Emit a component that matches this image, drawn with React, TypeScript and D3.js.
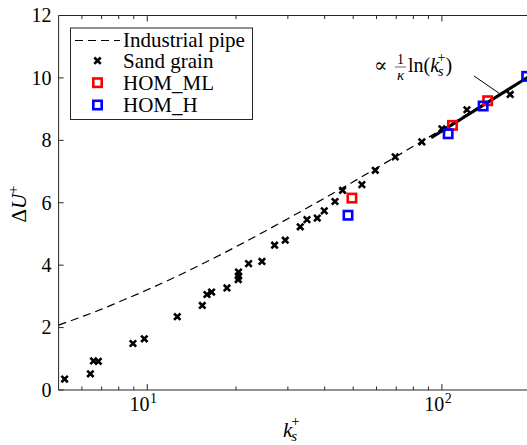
import * as d3 from "d3";

// Sand-grain roughness function
const sandK = [5.24, 6.41, 6.57, 6.82, 8.94, 9.77, 12.64, 15.37, 15.94, 16.53, 18.64, 20.36, 20.4, 20.4, 22.07, 24.5, 27.04, 29.39, 33.05, 34.83, 37.75, 39.87, 43.36, 46.0, 53.5, 59.4, 69.4, 85.5, 100, 121.6, 170.5];
const sandDU = [0.35, 0.52, 0.93, 0.92, 1.49, 1.64, 2.35, 2.71, 3.06, 3.14, 3.27, 3.54, 3.65, 3.78, 4.05, 4.12, 4.64, 4.8, 5.23, 5.46, 5.51, 5.74, 6.04, 6.4, 6.58, 7.04, 7.47, 7.95, 8.37, 8.98, 9.47];

const homMLK = [49.5, 108.6, 143];
const homMLDU = [6.15, 8.48, 9.27];

const homHK = [48.0, 105.0, 138.0, 194];
const homHDU = [5.6, 8.21, 9.1, 10.05];

// Industrial pipe curve, sampled along the dashed line
const pipeK = [5, 6, 7, 8, 10, 12, 15, 20, 25, 30, 40, 50, 60, 80, 100, 150, 200];
const pipeDU = [2.08, 2.35, 2.59, 2.82, 3.21, 3.55, 3.99, 4.59, 5.08, 5.49, 6.15, 6.67, 7.11, 7.81, 8.35, 9.36, 10.08];

// fully rough asymptote (solid)
const roughK = [92, 200];
const roughDU = [8.08, 10.08];

const yTicks = [0, 2, 4, 6, 8, 10, 12];
const xMajor = [10, 100];
const xMinor = [6, 7, 8, 9, 20, 30, 40, 50, 60, 70, 80, 90, 200];

const W = 527;
const H = 445;
const font = '"Liberation Serif", "DejaVu Serif", "Times New Roman", serif';
const axisColor = "#262626";

export default function App() {
  const x = d3.scaleLog().domain([5, 200]).range([58.6, 530.6]);
  const y = d3.scaleLinear().domain([0, 12]).range([390, 15.5]);
  const left = x(5);
  const right = W + 5;
  const top = y(12);
  const bottom = y(0);

  const line = d3
    .line<[number, number]>()
    .x((d) => x(d[0]))
    .y((d) => y(d[1]))
    .curve(d3.curveMonotoneX);

  const pipeData = pipeK.map((k, i) => [k, pipeDU[i]] as [number, number]);
  const roughData = roughK.map((k, i) => [k, roughDU[i]] as [number, number]);

  const cross = (cx: number, cy: number, key: string) => (
    <path
      key={key}
      d={`M${cx - 3.2},${cy - 3.2}L${cx + 3.2},${cy + 3.2}M${cx - 3.2},${cy + 3.2}L${cx + 3.2},${cy - 3.2}`}
      stroke="#000"
      strokeWidth={2.6}
      fill="none"
    />
  );
  const square = (cx: number, cy: number, color: string, key: string) => (
    <rect key={key} x={cx - 4.2} y={cy - 4.2} width={8.4} height={8.4} fill="none" stroke={color} strokeWidth={2.6} />
  );

  return (
    <svg width={W} height={H} style={{ position: "absolute", left: 0, top: 0, background: "#fff", fontFamily: font }}>
      <defs>
        <clipPath id="plot">
          <rect x={left} y={top} width={right - left} height={bottom - top} />
        </clipPath>
      </defs>

      {/* axes box */}
      <line x1={left} x2={right} y1={top} y2={top} stroke={axisColor} strokeWidth={1} />
      <line x1={left} x2={right} y1={bottom} y2={bottom} stroke={axisColor} strokeWidth={1} />
      <line x1={left} x2={left} y1={top} y2={bottom} stroke={axisColor} strokeWidth={1} />

      {/* y ticks */}
      {yTicks.map((t) => (
        <g key={"y" + t}>
          <line x1={left} x2={left + 5} y1={y(t)} y2={y(t)} stroke={axisColor} />
          <text x={left - 7} y={y(t)} dy="0.34em" textAnchor="end" fontSize={20} fill="#000">
            {t}
          </text>
        </g>
      ))}

      {/* x ticks */}
      {xMajor.map((t) => (
        <g key={"xm" + t}>
          <line x1={x(t)} x2={x(t)} y1={bottom} y2={bottom - 6} stroke={axisColor} />
          <line x1={x(t)} x2={x(t)} y1={top} y2={top + 6} stroke={axisColor} />
          <text x={x(t) - 4} y={411} textAnchor="middle" fontSize={20} fill="#000">
            10
            <tspan dx={0.5} dy={-8} fontSize={14}>
              {Math.round(Math.log10(t))}
            </tspan>
          </text>
        </g>
      ))}
      {xMinor.map((t) => (
        <g key={"xn" + t}>
          <line x1={x(t)} x2={x(t)} y1={bottom} y2={bottom - 3.5} stroke={axisColor} />
          <line x1={x(t)} x2={x(t)} y1={top} y2={top + 3.5} stroke={axisColor} />
        </g>
      ))}

      {/* axis labels */}
      <text x={283} y={437} fontSize={21} fontStyle="italic" fill="#000">
        k
        <tspan dx={-1} dy={4} fontSize={15}>s</tspan>
        <tspan dx={-6} dy={-15} fontSize={15} fontStyle="normal">+</tspan>
      </text>
      <text transform="translate(26,204) rotate(-90)" textAnchor="middle" fontSize={21} fill="#000">
        Δ<tspan fontStyle="italic">U</tspan>
        <tspan dy={-8} fontSize={15}>+</tspan>
      </text>

      {/* curves */}
      <g clipPath="url(#plot)">
        <path d={line(pipeData) ?? ""} fill="none" stroke="#000" strokeWidth={1.2} strokeDasharray="8,5" />
        <path d={line(roughData) ?? ""} fill="none" stroke="#000" strokeWidth={3} />
      </g>

      {/* markers */}
      {sandK.map((k, i) => cross(x(k), y(sandDU[i]), "s" + i))}
      {homMLK.map((k, i) => square(x(k), y(homMLDU[i]), "#ff0000", "m" + i))}
      {homHK.map((k, i) => square(x(k), y(homHDU[i]), "#0000ff", "h" + i))}

      {/* annotation */}
      <line x1={474} y1={76} x2={499.5} y2={93.5} stroke="#000" strokeWidth={1} />
      <text x={374} y={72} fontSize={20} fill="#000">∝</text>
      <text x={400.5} y={64} fontSize={14} textAnchor="middle" fill="#000">1</text>
      <line x1={395} x2={406} y1={67} y2={67} stroke="#000" strokeWidth={0.6} />
      <text x={400.5} y={80} fontSize={15} fontStyle="italic" textAnchor="middle" fill="#000">κ</text>
      <text x={408} y={72} fontSize={20} fill="#000">
        ln(<tspan fontStyle="italic">k</tspan>
        <tspan dx={-1} dy={4} fontSize={14} fontStyle="italic">s</tspan>
        <tspan dx={-6} dy={-14} fontSize={14}>+</tspan>
        <tspan dy={10}>)</tspan>
      </text>

      {/* legend */}
      <rect x={70.5} y={28} width={182} height={91.5} fill="#fff" stroke={axisColor} strokeWidth={1} />
      <line x1={75} x2={120} y1={40.5} y2={40.5} stroke="#000" strokeWidth={1.2} strokeDasharray="8,5" />
      <text x={123} y={46.5} fontSize={21} fill="#000">Industrial pipe</text>
      {cross(97.5, 60.7, "lg-s")}
      <text x={123} y={67.5} fontSize={21} fill="#000">Sand grain</text>
      {square(97.5, 82.7, "#ff0000", "lg-m")}
      <text x={123} y={90} fontSize={21} fill="#000">HOM_ML</text>
      {square(97.5, 105, "#0000ff", "lg-h")}
      <text x={123} y={112} fontSize={21} fill="#000">HOM_H</text>
    </svg>
  );
}
